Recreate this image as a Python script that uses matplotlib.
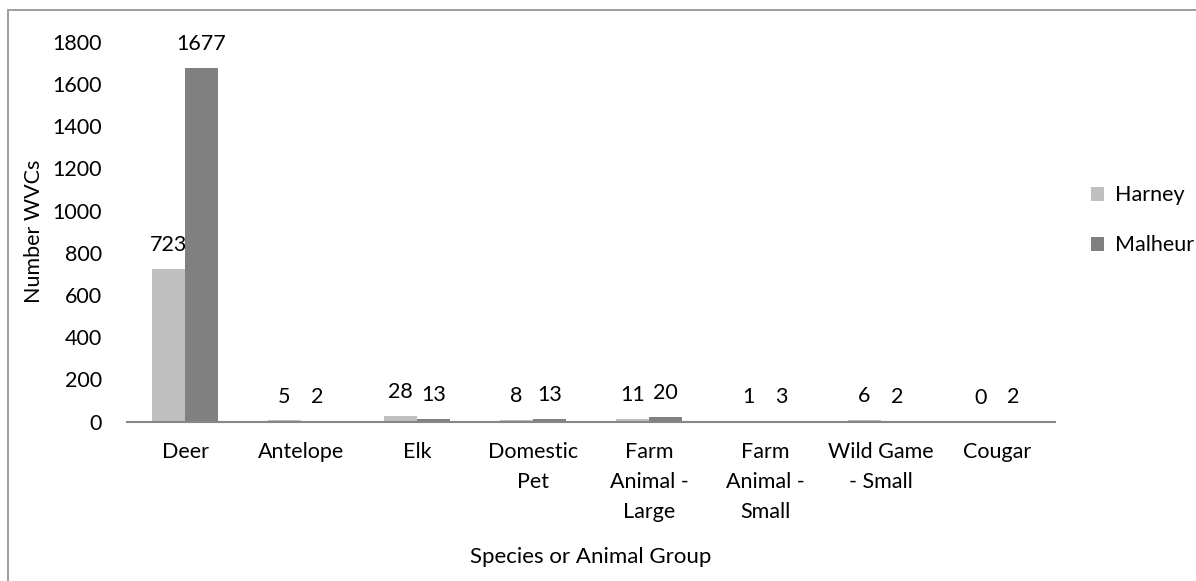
import numpy as np
import matplotlib.pyplot as plt
from matplotlib.patches import Rectangle

plt.rcParams['font.family'] = ['Lato', 'DejaVu Sans']

categories = ['Deer', 'Antelope', 'Elk', 'Domestic\nPet', 'Farm\nAnimal -\nLarge',
              'Farm\nAnimal -\nSmall', 'Wild Game\n- Small', 'Cougar']
harney = [723, 5, 28, 8, 11, 1, 6, 0]
malheur = [1677, 2, 13, 13, 20, 3, 2, 2]

fs = 15.5
W, H = 1196, 581

fig = plt.figure(figsize=(W / 100, H / 100), dpi=100)

# outer chart frame drawn as two thin filled strips (left edge, top edge)
edge = '#a0a0a0'
fig.add_artist(Rectangle((7 / W, 0), 2 / W, 1 - 9 / H, transform=fig.transFigure,
                         facecolor=edge, edgecolor='none', zorder=10))
fig.add_artist(Rectangle((7 / W, 1 - 11 / H), 1, 2 / H, transform=fig.transFigure,
                         facecolor=edge, edgecolor='none', zorder=10))

ax = fig.add_axes([127 / W, 1 - 421.5 / H, (1055 - 127) / W, (421.5 - 42) / H])

x = np.arange(len(categories))
w = 0.287
b1 = ax.bar(x - w / 2, harney, w, color='#bfbfbf', label='Harney')
b2 = ax.bar(x + w / 2, malheur, w, color='#808080', label='Malheur')

for bars, vals in ((b1, harney), (b2, malheur)):
    for r, v in zip(bars, vals):
        ax.annotate(str(v), (r.get_x() + r.get_width() / 2, v), xytext=(0, 10),
                    textcoords='offset points', ha='center', va='bottom', fontsize=fs)

ax.set_xlim(-0.5, len(categories) - 0.5)
ax.set_ylim(0, 1800)
ax.set_yticks(range(0, 1801, 200))
ax.set_xticks(x)
ax.set_xticklabels(categories, fontsize=fs, linespacing=1.6, va='top')
ax.tick_params(axis='y', labelsize=fs, length=0, pad=18)
ax.tick_params(axis='x', length=0, pad=15)

for s in ('top', 'right', 'left'):
    ax.spines[s].set_visible(False)
ax.spines['bottom'].set_color('#868686')
ax.spines['bottom'].set_linewidth(1.5)

ax.set_ylabel('Number WVCs', fontsize=fs, labelpad=6)
ax.set_xlabel('Species or Animal Group', fontsize=16, labelpad=18)

ax.legend(loc='center left', bbox_to_anchor=(1.018, 0.53), frameon=False, fontsize=fs,
          handlelength=0.6, handleheight=0.6, labelspacing=1.4, handletextpad=0.5)

fig.savefig('out.png', dpi=100)
